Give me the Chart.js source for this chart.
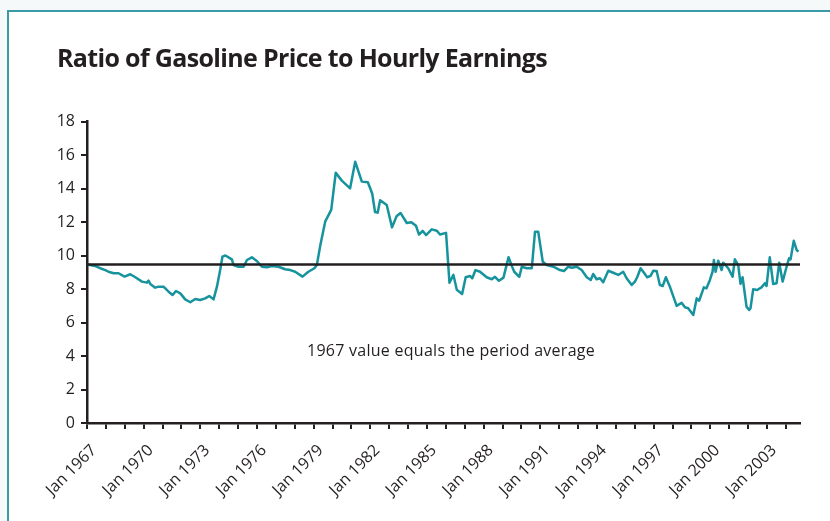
<!DOCTYPE html>
<html><head><meta charset="utf-8">
<script src="https://cdn.jsdelivr.net/npm/chart.js@4.4.1/dist/chart.umd.min.js"></script>
<style>
html,body{margin:0;padding:0;width:830px;height:521px;overflow:hidden;background:#f5f9fa;}
#frame{position:absolute;left:7px;top:10px;width:840px;height:530px;background:#fff;border-left:2px solid #3a9aa6;border-top:2px solid #3a9aa6;}
#title{position:absolute;left:57px;top:45px;font-family:"Open Sans";font-weight:bold;font-size:25px;line-height:25px;color:#231f20;white-space:nowrap;}
#note{position:absolute;left:307px;top:342px;font-family:"Open Sans";font-size:16px;line-height:16px;color:#231f20;white-space:nowrap;}
canvas{position:absolute;left:0;top:0;}
</style></head>
<body>
<div id="frame"></div>
<canvas id="c" width="830" height="521"></canvas>
<div id="title">Ratio of Gasoline Price to Hourly Earnings</div>
<div id="note">1967 value equals the period average</div>
<script>
// ---- data ----
const years = [1967.00,1967.44,1967.70,1967.97,1968.14,1968.41,1968.67,1968.99,1969.29,1969.56,1969.91,1970.17,1970.26,1970.35,1970.61,1970.79,1971.05,1971.32,1971.53,1971.71,1971.94,1972.20,1972.47,1972.73,1972.99,1973.26,1973.47,1973.70,1973.88,1974.05,1974.17,1974.33,1974.58,1974.67,1974.76,1975.02,1975.29,1975.47,1975.73,1975.99,1976.26,1976.52,1976.79,1977.14,1977.49,1977.76,1978.02,1978.41,1978.72,1979.04,1979.17,1979.34,1979.61,1979.93,1980.17,1980.49,1980.93,1981.20,1981.55,1981.87,1982.10,1982.25,1982.39,1982.52,1982.87,1983.15,1983.39,1983.60,1983.93,1984.17,1984.42,1984.58,1984.77,1984.95,1985.25,1985.52,1985.69,1986.01,1986.19,1986.40,1986.58,1986.71,1986.86,1987.05,1987.28,1987.40,1987.57,1987.81,1988.16,1988.43,1988.60,1988.81,1989.05,1989.32,1989.50,1989.62,1989.89,1990.02,1990.28,1990.55,1990.72,1990.89,1991.13,1991.34,1991.69,1992.04,1992.25,1992.48,1992.66,1992.93,1993.19,1993.46,1993.67,1993.80,1993.98,1994.16,1994.33,1994.60,1994.86,1995.13,1995.39,1995.57,1995.84,1996.01,1996.13,1996.31,1996.45,1996.66,1996.84,1996.98,1997.16,1997.33,1997.48,1997.65,1997.86,1998.22,1998.48,1998.66,1998.83,1999.10,1999.28,1999.41,1999.66,1999.80,1999.98,2000.12,2000.19,2000.28,2000.42,2000.60,2000.68,2000.95,2001.18,2001.30,2001.48,2001.60,2001.71,2001.92,2002.06,2002.13,2002.27,2002.48,2002.71,2002.89,2002.98,2003.15,2003.33,2003.51,2003.65,2003.83,2004.04,2004.17,2004.25,2004.42,2004.57,2004.67];
const ratio = [9.46,9.37,9.24,9.13,9.03,8.94,8.94,8.74,8.88,8.70,8.44,8.38,8.50,8.30,8.08,8.14,8.14,7.84,7.64,7.88,7.74,7.38,7.21,7.40,7.34,7.44,7.58,7.38,8.14,9.13,9.93,10.00,9.83,9.77,9.43,9.33,9.33,9.73,9.89,9.67,9.33,9.30,9.37,9.33,9.18,9.13,9.03,8.74,9.03,9.24,9.43,10.53,12.02,12.72,14.94,14.47,14.01,15.60,14.41,14.37,13.70,12.60,12.56,13.30,13.01,11.68,12.34,12.54,11.94,11.99,11.77,11.25,11.47,11.22,11.56,11.48,11.25,11.35,8.38,8.84,7.95,7.84,7.70,8.70,8.78,8.64,9.13,9.03,8.70,8.58,8.73,8.49,8.68,9.90,9.35,9.03,8.73,9.33,9.24,9.24,11.42,11.42,9.63,9.43,9.33,9.13,9.07,9.33,9.27,9.33,9.13,8.70,8.54,8.90,8.58,8.64,8.40,9.09,8.97,8.84,9.03,8.64,8.24,8.44,8.70,9.24,9.03,8.70,8.78,9.09,9.07,8.24,8.18,8.70,8.14,6.99,7.18,6.91,6.85,6.45,7.44,7.30,8.10,8.04,8.54,9.03,9.73,9.03,9.69,9.13,9.57,9.24,8.73,9.77,9.43,8.30,8.70,6.94,6.75,6.85,7.98,7.94,8.10,8.34,8.18,9.89,8.30,8.34,9.57,8.44,9.33,9.83,9.77,10.88,10.33,10.23];
const periodAverage = 9.46;
const xStart = 1967, xEnd = 2004.75;
const tickYears = []; for (let y = 1967; y <= 2004; y++) tickYears.push(y);
const labelYears = [1967,1970,1973,1976,1979,1982,1985,1988,1991,1994,1997,2000,2003];
const yTicks = [0,2,4,6,8,10,12,14,16,18];

const ink = '#231f20';
const seriesPts = years.map((x,i)=>({x:x, y:ratio[i]}));
const avgPts = [{x:xStart,y:periodAverage},{x:xEnd,y:periodAverage}];

new Chart(document.getElementById('c'), {
  type:'line',
  data:{datasets:[
    {data:avgPts, borderColor:ink, borderWidth:2.5, pointRadius:0, tension:0},
    {data:seriesPts, borderColor:'#16939d', borderWidth:2.5, pointRadius:0, tension:0, borderJoinStyle:'round'}
  ]},
  options:{
    responsive:false, animation:false, devicePixelRatio:1,
    layout:{padding:{left:0,top:121.5,right:30,bottom:0}},
    plugins:{legend:{display:false}, tooltip:{enabled:false}},
    scales:{
      x:{type:'linear', min:xStart, max:xEnd,
        afterBuildTicks:s=>{s.ticks = tickYears.map(v=>({value:v}));},
        afterFit:s=>{s.height = 98;},
        border:{display:true,color:ink,width:2.5},
        grid:{display:true,drawOnChartArea:false,drawTicks:true,tickLength:6,color:ink,lineWidth:2},
        ticks:{autoSkip:false,minRotation:45,maxRotation:45,padding:12,labelOffset:7,color:ink,
          font:{family:'Open Sans',size:16},
          callback:v=>labelYears.includes(v)?('Jan '+v):''}
      },
      y:{min:0,max:18,
        afterBuildTicks:s=>{s.ticks = yTicks.map(v=>({value:v}));},
        afterFit:s=>{s.width = 87;},
        border:{display:true,color:ink,width:2.5},
        grid:{display:true,drawOnChartArea:false,drawTicks:true,tickLength:6,color:ink,lineWidth:2},
        ticks:{padding:6,color:ink,font:{family:'Open Sans',size:16}}
      }
    }
  }
});

function fitWidth(el, target){
  const w = el.getBoundingClientRect().width;
  const n = el.textContent.length;
  el.style.letterSpacing = ((target - w)/n).toFixed(3)+'px';
}
document.fonts.ready.then(()=>{
  fitWidth(document.getElementById('title'), 490);
  fitWidth(document.getElementById('note'), 288);
});
</script>
</body></html>
